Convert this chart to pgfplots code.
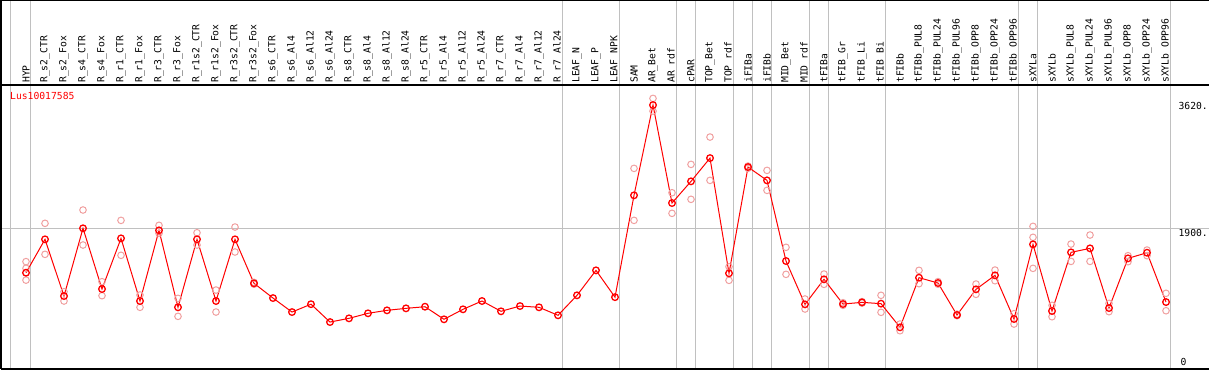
\documentclass[border=0pt]{standalone}
\usepackage{fontspec}
\setmainfont{DejaVu Sans Mono}
\usepackage{pgfplots}
\pgfplotsset{compat=1.18}
\definecolor{rep}{HTML}{F0A0A0}
\definecolor{gridc}{HTML}{C0C0C0}
\newcommand{\lf}{\fontsize{9.7}{11}\selectfont}
\begin{document}
\begin{tikzpicture}[font=\lf]
\begin{axis}[
  scale only axis, width=1208pt, height=284pt,
  xmin=-1.3158, xmax=62.263, ymin=0, ymax=3835,
  axis line style={draw=none},
  clip=false,
  xtick={0,...,60},
  xticklabels={HYP,R\_s2\_CTR,R\_s2\_Fox,R\_s4\_CTR,R\_s4\_Fox,R\_r1\_CTR,R\_r1\_Fox,R\_r3\_CTR,R\_r3\_Fox,R\_r1s2\_CTR,R\_r1s2\_Fox,R\_r3s2\_CTR,R\_r3s2\_Fox,R\_s6\_CTR,R\_s6\_Al4,R\_s6\_Al12,R\_s6\_Al24,R\_s8\_CTR,R\_s8\_Al4,R\_s8\_Al12,R\_s8\_Al24,R\_r5\_CTR,R\_r5\_Al4,R\_r5\_Al12,R\_r5\_Al24,R\_r7\_CTR,R\_r7\_Al4,R\_r7\_Al12,R\_r7\_Al24,LEAF\_N,LEAF\_P,LEAF\_NPK,SAM,AR\_Bet,AR\_rdf,cPAR,TOP\_Bet,TOP\_rdf,iFIBa,iFIBb,MID\_Bet,MID\_rdf,tFIBa,tFIB\_Gr,tFIB\_Li,tFIB\_Bi,tFIBb,tFIBb\_PUL8,tFIBb\_PUL24,tFIBb\_PUL96,tFIBb\_OPP8,tFIBb\_OPP24,tFIBb\_OPP96,sXYLa,sXYLb,sXYLb\_PUL8,sXYLb\_PUL24,sXYLb\_PUL96,sXYLb\_OPP8,sXYLb\_OPP24,sXYLb\_OPP96},
  xticklabel pos=upper,
  major tick length=0pt,
  xticklabel style={rotate=90, anchor=west, inner sep=2pt, font=\lf},
  ytick=\empty,
]
\coordinate (A) at (rel axis cs:0,0);
\coordinate (B) at (rel axis cs:1,1);
% separators
\pgfplotsinvokeforeach{-0.8,0.25,28.25,31.25,34.25,35.25,37.25,38.25,39.25,41.25,42.25,45.25,52.25,53.25,60.25}{
  \draw[gridc, line width=1pt] (axis cs:#1,0) -- ([yshift=85pt]axis cs:#1,3835);
}
\draw[gridc, line width=1pt] (axis cs:-1.3158,1900) -- (axis cs:62.263,1900);
% frame
\draw[black, line width=1.5pt] (rel axis cs:0,0) -- (rel axis cs:1,0);
\draw[black, line width=1.5pt] (rel axis cs:0,1) -- (rel axis cs:1,1);
\draw[black, line width=2pt] (rel axis cs:0,0) -- ([yshift=85pt]rel axis cs:0,1);
\draw[black, line width=2pt] ([yshift=85pt]rel axis cs:0,1) -- ([yshift=85pt]rel axis cs:1,1);
% replicates
\addplot[only marks, mark=o, color=rep, mark size=3.3pt, mark options={line width=1pt}] coordinates {
(0,1450)(0,1360)(0,1200)
(1,1967)(1,1548)
(2,1044)(2,918)
(3,2147)(3,1674)
(4,1179)(4,990)
(5,2007)(5,1535)
(6,999)(6,833)
(7,1940)(7,1832)
(8,954)(8,711)
(9,1840)(9,1674)
(10,1066)(10,769)
(11,1917)(11,1580)
(12,1170)(12,1145)
(32,2709)(32,2007)
(33,3654)(33,3483)
(34,2380)(34,2102)
(35,2763)(35,2291)
(36,3132)(36,2547)
(37,1381)(37,1197)
(38,2710)(38,2740)
(39,2682)(39,2412)
(40,1643)(40,1278)
(41,945)(41,810)
(42,1282)(42,1143)
(43,895)(43,860)
(44,910)(44,890)
(45,995)(45,765)
(46,607)(46,517)
(47,1332)(47,1152)
(48,1180)(48,1145)
(49,740)(49,720)
(50,1147)(50,1008)
(51,1336)(51,1192)
(52,747)(52,607)
(53,1926)(53,1778)(53,1359)
(54,860)(54,706)
(55,1687)(55,1453)
(56,1809)(56,1453)
(57,886)(57,774)
(58,1530)(58,1449)
(59,1606)(59,1530)
(60,1022)(60,787)
};
% means
\addplot[red, line width=1pt, mark=o, mark size=3.3pt, mark options={line width=1.3pt, solid}] coordinates {
(0,1300)(1,1751)(2,985)(3,1900)(4,1080)(5,1764)(6,918)(7,1872)(8,833)(9,1751)
(10,918)(11,1751)(12,1157)(13,958)(14,769)(15,875)(16,634)(17,684)(18,752)(19,792)
(20,819)(21,841)(22,671)(23,806)(24,918)(25,779)(26,850)(27,833)(28,725)(29,995)
(30,1332)(31,970)(32,2345)(33,3564)(34,2241)(35,2534)(36,2848)(37,1292)(38,2727)(39,2547)
(40,1458)(41,873)(42,1211)(43,877)(44,900)(45,882)(46,563)(47,1233)(48,1161)(49,729)
(50,1076)(51,1265)(52,675)(53,1683)(54,783)(55,1575)(56,1629)(57,823)(58,1494)(59,1570)
(60,904)
};
\node[red, anchor=north west, inner sep=0pt, font=\lf] at ([xshift=9pt,yshift=-7pt]rel axis cs:0,1) {Lus10017585};
\node[anchor=north west, inner sep=1pt, font=\lf] at (axis cs:60.6,3620) {3620.};
\node[anchor=north west, inner sep=1pt, font=\lf] at (axis cs:60.6,1900) {1900.};
\node[anchor=south west, inner sep=3pt, font=\lf] at (axis cs:60.6,0) {0};
\end{axis}
\pgfresetboundingbox
\path[use as bounding box] ([xshift=-1pt,yshift=-1pt]A) rectangle ([yshift=85pt]B);
\end{tikzpicture}
\end{document}
